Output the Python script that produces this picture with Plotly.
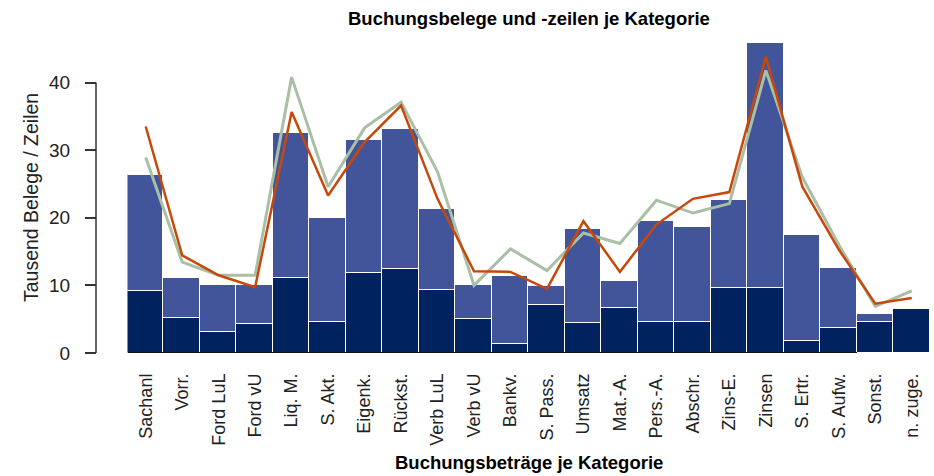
import plotly.graph_objects as go

categories = ["Sachanl", "Vorr.", "Ford LuL", "Ford vU", "Liq. M.", "S. Akt.", "Eigenk.",
              "Rückst.", "Verb LuL", "Verb vU", "Bankv.", "S. Pass.", "Umsatz", "Mat.-A.",
              "Pers.-A.", "Abschr.", "Zins-E.", "Zinsen", "S. Ertr.", "S. Aufw.", "Sonst.", "n. zuge."]

bottom_vals = [9.1, 5.2, 3.1, 4.3, 11.15, 4.6, 11.8, 12.45, 9.35, 5.1, 1.3, 7.1, 4.4, 6.65,
               4.6, 4.6, 9.57, 9.57, 1.73, 3.75, 4.6, 6.55]
total_vals = [26.3, 11.05, 10.0, 10.1, 32.5, 20.0, 31.5, 33.2, 21.3, 10.1, 11.45, 9.9, 18.4, 10.6,
              19.5, 18.65, 22.7, 45.8, 17.5, 12.6, 5.7, 6.55]
top_vals = [round(t - b, 2) for t, b in zip(total_vals, bottom_vals)]

orange_vals = [33.5, 14.45, 11.5, 9.75, 35.65, 23.3, 31.2, 36.6, 22.8, 12.1, 12.0, 9.5, 19.5, 12.0,
               19.0, 22.8, 23.8, 43.8, 24.6, 15.3, 7.3, 8.15]
grey_vals = [28.9, 13.45, 11.5, 11.5, 40.8, 24.6, 33.3, 37.1, 26.8, 10.0, 15.4, 12.2, 17.75, 16.2,
             22.6, 20.7, 22.1, 41.8, 26.0, 16.0, 6.9, 9.2]

y_ticks = [0, 10, 20, 30, 40]

DARK = "#00235F"
LIGHT = "#42549A"
ORANGE = "#C8480C"
GREY = "#A9BFA6"
SANS = "Liberation Sans, Arial, sans-serif"

fig = go.Figure()
fig.add_trace(go.Bar(x=categories, y=bottom_vals, marker=dict(color=DARK, line=dict(color="white", width=1.3))))
fig.add_trace(go.Bar(x=categories, y=top_vals, marker=dict(color=LIGHT, line=dict(color="white", width=1.3))))
fig.add_trace(go.Scatter(x=categories, y=grey_vals, mode="lines", line=dict(color=GREY, width=3)))
fig.add_trace(go.Scatter(x=categories, y=orange_vals, mode="lines", line=dict(color=ORANGE, width=2.5)))

W, H = 934, 476
ml, mr, mt, mb = 96, 3.5, 43, 123
pw = W - ml - mr
ph = H - mt - mb
x_start = (127.5 - ml) / pw

fig.update_layout(
    width=W, height=H,
    margin=dict(l=ml, r=mr, t=mt, b=mb, pad=0),
    barmode="stack", bargap=0,
    showlegend=False,
    plot_bgcolor="white", paper_bgcolor="white",
    xaxis=dict(domain=[x_start, 1], range=[-0.5, len(categories) - 0.5],
               tickangle=-90, showgrid=False, showline=False, ticks="",
               tickfont=dict(family=SANS, size=18, color="#222"), ticklabelstandoff=16),
    yaxis=dict(range=[0, 45.85], anchor="free", position=0, showgrid=False, zeroline=False,
               showline=False, tickvals=y_ticks, ticks="outside", ticklen=11, tickwidth=1.5,
               tickcolor="#333", tickfont=dict(family=SANS, size=19, color="#222"),
               ticklabelstandoff=11),
)

fig.add_shape(type="line", xref="paper", yref="y", x0=0, x1=0, y0=0, y1=40,
              line=dict(color="#333", width=1.5))
fig.add_shape(type="line", xref="x", yref="y", x0=-0.5, x1=19.5, y0=0, y1=0,
              line=dict(color="#111", width=2), layer="above")

fig.add_annotation(text="<b>Buchungsbelege und -zeilen je Kategorie</b>", xref="x domain", yref="paper",
                   x=0.5, y=(H - mb - 18) / ph, xanchor="center", yanchor="middle", showarrow=False,
                   font=dict(family=SANS, size=18.5, color="#000"))
fig.add_annotation(text="<b>Buchungsbeträge je Kategorie</b>", xref="x domain", yref="paper",
                   x=0.5, y=-(462 - (H - mb)) / ph, xanchor="center", yanchor="middle", showarrow=False,
                   font=dict(family=SANS, size=18.5, color="#000"))
fig.add_annotation(text="Tausend Belege / Zeilen", xref="paper", yref="paper", textangle=-90,
                   x=(31 - ml) / pw, y=0.5, xanchor="center", yanchor="middle", showarrow=False,
                   font=dict(family=SANS, size=19.5, color="#222"))

fig.write_html("out.html", config={"displayModeBar": False},
               post_script="document.body.style.margin='0';document.body.style.overflow='hidden';")
